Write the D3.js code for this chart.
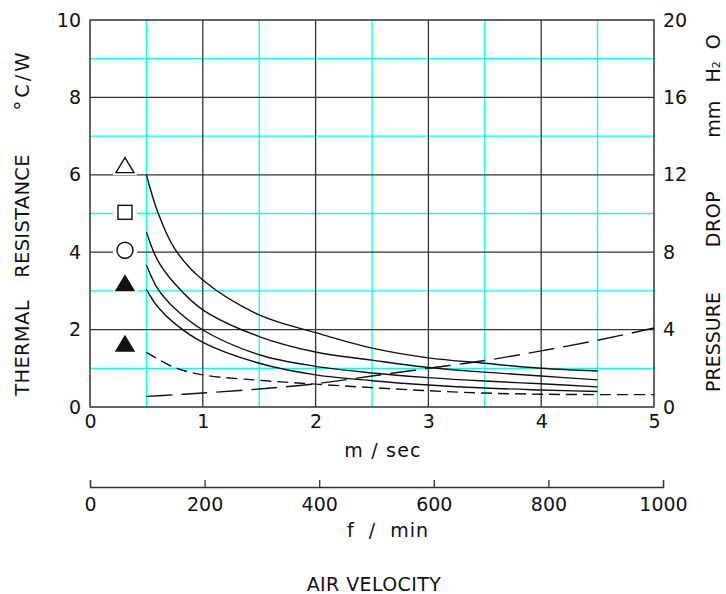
<!DOCTYPE html>
<html>
<head>
<meta charset="utf-8">
<script src="https://cdn.jsdelivr.net/npm/d3@7"></script>
<style>
  html, body { margin: 0; padding: 0; background: #fff; }
  svg text { font-family: "DejaVu Sans", sans-serif; fill: #111; white-space: pre; }
</style>
</head>
<body>
<svg id="chart" width="726" height="594"></svg>
<script>
// ---- data ----
const velocity = [0.5, 0.6, 0.75, 1, 1.5, 2, 2.5, 3, 3.5, 4, 4.5];           // m/sec
const curveA   = [6.0, 5.04, 4.09, 3.28, 2.38, 1.92, 1.52, 1.27, 1.13, 1.0, 0.93]; // open triangle
const curveB   = [4.52, 3.79, 3.19, 2.51, 1.82, 1.42, 1.21, 1.02, 0.90, 0.80, 0.70]; // square
const curveC   = [3.67, 3.06, 2.55, 1.99, 1.35, 1.05, 0.88, 0.76, 0.67, 0.60, 0.52]; // circle
const curveD   = [3.04, 2.59, 2.16, 1.67, 1.13, 0.83, 0.68, 0.57, 0.49, 0.44, 0.40]; // filled triangle
const velocityDash = [0.5, 0.75, 1, 1.5, 2, 2.5, 3, 3.5, 4, 4.5, 5];
const curveE       = [1.41, 1.02, 0.83, 0.69, 0.59, 0.50, 0.42, 0.36, 0.33, 0.32, 0.32]; // dashed thermal
const pressure     = [0.55, 0.63, 0.72, 0.93, 1.2, 1.6, 2.0, 2.4, 2.9, 3.45, 4.08];       // mm H2O
const markerTypes  = ["triangleOpen", "square", "circle", "triangleFilled", "triangleFilled"];
const markerValues = [6.25, 5.03, 4.05, 3.2, 1.64];
const markerX = 0.31;
const xTicks = [0, 1, 2, 3, 4, 5];
const yTicks = [0, 2, 4, 6, 8, 10];
const yRightTicks = [0, 4, 8, 12, 16, 20];
const fpmTicks = [0, 200, 400, 600, 800, 1000];
const FPM_TO_MS = 0.00508;

// ---- layout ----
const svg = d3.select("#chart");
const L = 90, R = 654, T = 20, B = 407;
const x = d3.scaleLinear().domain([0, 5]).range([L, R]);
const y = d3.scaleLinear().domain([0, 10]).range([B, T]);
const yR = d3.scaleLinear().domain([0, 20]).range([B, T]);
const xF = d3.scaleLinear().domain([0, 1000]).range([x(0), x(1000 * FPM_TO_MS)]);

const gridCol = "#333", cyan = "#00ffff";
const FONT = '"DejaVu Sans", sans-serif';
// minor (cyan) grid
const g = svg.append("g");
d3.range(0.5, 5, 1).forEach(v => g.append("line").attr("x1", x(v)).attr("x2", x(v)).attr("y1", T).attr("y2", B)
  .attr("stroke", cyan).attr("stroke-width", 1.3));
d3.range(1, 10, 2).forEach(v => g.append("line").attr("y1", y(v)).attr("y2", y(v)).attr("x1", L).attr("x2", R)
  .attr("stroke", cyan).attr("stroke-width", 1.3));
// major grid
[1, 2, 3, 4].forEach(v => g.append("line").attr("x1", x(v)).attr("x2", x(v)).attr("y1", T).attr("y2", B)
  .attr("stroke", gridCol).attr("stroke-width", 1.3));
[2, 4, 6, 8].forEach(v => g.append("line").attr("y1", y(v)).attr("y2", y(v)).attr("x1", L).attr("x2", R)
  .attr("stroke", gridCol).attr("stroke-width", 1.3));
g.append("rect").attr("x", L).attr("y", T).attr("width", R - L).attr("height", B - T)
  .attr("fill", "none").attr("stroke", gridCol).attr("stroke-width", 1.5);

// axes (labels only)
const fs = 19;
const axL = svg.append("g").attr("transform", `translate(${L},0)`)
  .call(d3.axisLeft(y).tickValues(yTicks).tickSize(0).tickPadding(9).tickFormat(d3.format("d")));
const axR = svg.append("g").attr("transform", `translate(${R},0)`)
  .call(d3.axisRight(yR).tickValues(yRightTicks).tickSize(0).tickPadding(9).tickFormat(d3.format("d")));
const axB = svg.append("g").attr("transform", `translate(0,${B})`)
  .call(d3.axisBottom(x).tickValues(xTicks).tickSize(0).tickPadding(8).tickFormat(d3.format("d")));
const axF = svg.append("g").attr("transform", `translate(0,487)`)
  .call(d3.axisTop(xF).tickValues(fpmTicks).tickSize(7).tickFormat(d3.format("d")));
[axL, axR, axB].forEach(a => a.select(".domain").remove());
axF.select(".domain").attr("stroke", gridCol).attr("stroke-width", 1.3);
axF.selectAll(".tick line").attr("stroke", gridCol).attr("stroke-width", 1.3);
axF.selectAll(".tick text").attr("y", 11).attr("dy", "0.71em");
[axL, axR, axB, axF].forEach(a => a.selectAll("text").attr("font-size", fs)
  .attr("font-family", FONT).attr("fill", "#111"));

// curves
const line = d3.line().curve(d3.curveCatmullRom.alpha(0.5));
const cg = svg.append("g").attr("fill", "none").attr("stroke", "#111").attr("stroke-width", 1.4);
[curveA, curveB, curveC, curveD].forEach(c => {
  cg.append("path").attr("d", line(velocity.map((v, i) => [x(v), y(c[i])])));
});
cg.append("path").attr("d", line(velocityDash.map((v, i) => [x(v), y(curveE[i])])))
  .attr("stroke-dasharray", "11,6");
cg.append("path").attr("d", line(velocityDash.map((v, i) => [x(v), yR(pressure[i])])))
  .attr("stroke-dasharray", "26,9");

// markers
const mg = svg.append("g");
markerTypes.forEach((t, i) => {
  const cx = x(markerX), cy = y(markerValues[i]);
  mg.append("rect").attr("x", cx - 12).attr("y", cy - 10).attr("width", 24).attr("height", 20).attr("fill", "#fff");
  if (t === "circle") {
    mg.append("circle").attr("cx", cx).attr("cy", cy).attr("r", 8)
      .attr("fill", "#fff").attr("stroke", "#111").attr("stroke-width", 1.4);
  } else if (t === "square") {
    mg.append("rect").attr("x", cx - 7).attr("y", cy - 7).attr("width", 14).attr("height", 14)
      .attr("fill", "#fff").attr("stroke", "#111").attr("stroke-width", 1.4);
  } else {
    const h = 15, w = 18;
    mg.append("path").attr("d", `M${cx},${cy - h / 2}L${cx + w / 2},${cy + h / 2}L${cx - w / 2},${cy + h / 2}Z`)
      .attr("fill", t === "triangleFilled" ? "#111" : "#fff").attr("stroke", "#111").attr("stroke-width", 1.4);
  }
});

// titles
function txt(s, px, py, rot, size, ls) {
  return svg.append("text").attr("font-size", size || fs).attr("text-anchor", "middle")
    .attr("letter-spacing", ls || 0)
    .attr("transform", `translate(${px},${py}) rotate(${rot || 0})`).text(s);
}
txt("m / sec", 383, 457, 0, 19, 1.2);
txt("f  /  min", 388, 537, 0, 19, 1);
txt("AIR VELOCITY", 374, 591, 0, 19, 0.4);
// left title, words placed individually
txt("THERMAL", 29, 348, -90, 19.5, 0.3);
txt("RESISTANCE", 29, 216, -90, 19.5, 0.3);
txt("°C/W", 29, 80, -90, 19.5, 3);
// right title
txt("PRESSURE", 720, 342, -90, 19, 0);
txt("DROP", 720, 219, -90, 19, 0.5);
const rt = svg.append("text").attr("font-size", 19).attr("text-anchor", "middle")
  .attr("transform", `translate(720,86) rotate(-90)`);
rt.append("tspan").text("mm   H");
rt.append("tspan").attr("font-size", 11).text("2");
rt.append("tspan").text("  O");
</script>
</body>
</html>
